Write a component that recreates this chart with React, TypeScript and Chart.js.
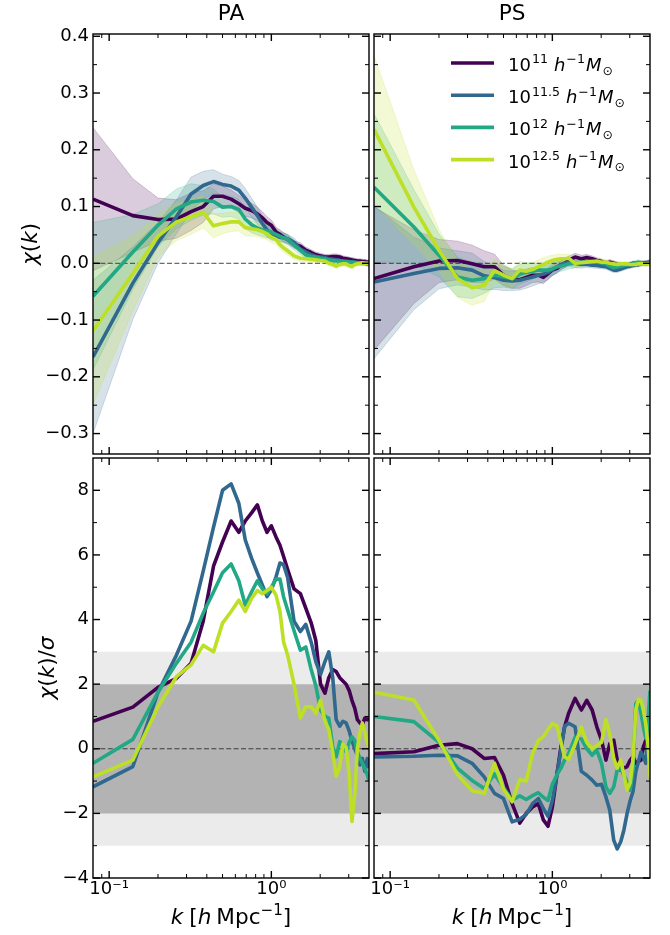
import React, { useEffect, useRef } from 'react';
import { Chart, registerables } from 'chart.js';

Chart.register(...registerables);

// ---------- data ----------
// wavenumber bins k [h Mpc^-1]
const K = [0.0795, 0.14, 0.2, 0.26, 0.32, 0.38, 0.44, 0.5, 0.565, 0.63, 0.69, 0.755, 0.82, 0.88, 0.94, 1.0, 1.07, 1.13, 1.19, 1.26, 1.38, 1.51, 1.63, 1.76, 1.88, 2.01, 2.14, 2.26, 2.39, 2.51, 2.64, 2.76, 2.89, 3.02, 3.14, 3.27, 3.39, 3.52, 3.64, 3.77, 3.9, 4.0];

const MASS_EXPONENTS = ['11', '11.5', '12', '12.5'];
const COLORS = ['#440154', '#31688e', '#22a884', '#bddf26'];

// chi(k), PA
const PA_CHI_11 = [0.113, 0.084, 0.077, 0.078, 0.091, 0.100, 0.118, 0.118, 0.113, 0.105, 0.097, 0.093, 0.087, 0.080, 0.072, 0.067, 0.055, 0.051, 0.046, 0.042, 0.033, 0.030, 0.023, 0.019, 0.015, 0.013, 0.011, 0.011, 0.012, 0.012, 0.011, 0.009, 0.008, 0.007, 0.006, 0.005, 0.004, 0.004, 0.003, 0.003, 0.002, 0.002];
const PA_CHI_115 = [-0.165, -0.035, 0.036, 0.082, 0.122, 0.137, 0.144, 0.139, 0.136, 0.129, 0.115, 0.099, 0.084, 0.070, 0.059, 0.052, 0.048, 0.046, 0.045, 0.043, 0.037, 0.025, 0.020, 0.015, 0.012, 0.011, 0.010, 0.008, 0.007, 0.006, 0.005, 0.004, 0.0035, 0.003, 0.002, 0.002, 0.001, 0.001, 0.001, 0.0, 0.0, 0.0];
const PA_CHI_12 = [-0.058, 0.020, 0.067, 0.096, 0.108, 0.111, 0.109, 0.099, 0.100, 0.095, 0.078, 0.068, 0.062, 0.059, 0.057, 0.055, 0.051, 0.048, 0.045, 0.042, 0.032, 0.023, 0.015, 0.012, 0.011, 0.009, 0.008, 0.006, 0.005, 0.004, 0.004, 0.0035, 0.003, 0.002, 0.002, 0.0015, 0.0015, 0.001, 0.0, 0.0, -0.001, -0.002];
const PA_CHI_125 = [-0.119, -0.018, 0.048, 0.073, 0.082, 0.090, 0.066, 0.070, 0.073, 0.073, 0.063, 0.061, 0.059, 0.056, 0.052, 0.046, 0.042, 0.033, 0.027, 0.022, 0.013, 0.009, 0.008, 0.007, 0.006, 0.005, 0.004, 0.0, -0.002, -0.005, -0.002, -0.001, -0.001, -0.004, -0.006, -0.002, -0.001, 0.0, 0.001, 0.0, 0.0, 0.0];

// chi(k), PS
const PS_CHI_11 = [-0.027, -0.006, 0.004, 0.005, -0.001, -0.006, -0.006, -0.021, -0.028, -0.029, -0.025, -0.021, -0.021, -0.025, -0.018, -0.012, -0.009, -0.0035, 0.0, 0.005, 0.011, 0.008, 0.010, 0.008, 0.005, 0.003, 0.0, 0.002, 0.0, -0.002, -0.0035, -0.005, -0.0035, -0.002, 0.0, -0.001, -0.002, 0.0, 0.0, 0.001, 0.001, 0.0];
const PS_CHI_115 = [-0.033, -0.018, -0.009, -0.008, -0.012, -0.022, -0.025, -0.030, -0.031, -0.030, -0.027, -0.024, -0.021, -0.019, -0.016, -0.011, -0.006, -0.003, 0.0, 0.002, 0.0, -0.002, -0.002, -0.0035, -0.004, -0.005, -0.006, -0.009, -0.012, -0.012, -0.010, -0.008, -0.006, -0.005, -0.004, -0.003, -0.002, -0.001, 0.0, 0.0, 0.002, 0.003];
const PS_CHI_12 = [0.134, 0.064, 0.014, -0.024, -0.030, -0.027, -0.021, -0.024, -0.027, -0.019, -0.016, -0.014, -0.012, -0.012, -0.012, -0.010, -0.006, -0.005, -0.003, -0.001, 0.0, 0.002, 0.0035, 0.003, 0.002, 0.001, -0.001, -0.005, -0.008, -0.006, -0.005, -0.004, -0.003, -0.002, -0.001, 0.001, 0.002, 0.001, 0.0, -0.001, 0.0, 0.0];
const PS_CHI_125 = [0.236, 0.099, 0.023, -0.027, -0.043, -0.039, -0.013, -0.021, -0.027, -0.012, -0.014, -0.011, -0.006, -0.002, 0.002, 0.005, 0.007, 0.008, 0.008, 0.009, 0.0, 0.001, 0.002, 0.003, 0.004, 0.002, 0.002, 0.0, -0.001, -0.002, -0.001, -0.001, -0.001, -0.002, -0.002, -0.002, -0.001, -0.001, -0.001, -0.001, -0.001, -0.001];

// 1-sigma widths of the shaded bands (per mass bin)
const SIGMA_11 = [0.126, 0.065, 0.038, 0.034, 0.033, 0.028, 0.022, 0.018, 0.016, 0.015, 0.014, 0.013, 0.012, 0.011, 0.010, 0.0095, 0.0085, 0.008, 0.0078, 0.0076, 0.0066, 0.0063, 0.0055, 0.005, 0.0048, 0.0047, 0.0045, 0.0045, 0.0045, 0.0045, 0.0044, 0.0043, 0.0042, 0.0041, 0.004, 0.004, 0.004, 0.004, 0.004, 0.004, 0.004, 0.004];
const SIGMA_115 = [0.135, 0.064, 0.036, 0.030, 0.030, 0.025, 0.021, 0.018, 0.017, 0.017, 0.017, 0.016, 0.015, 0.014, 0.013, 0.011, 0.009, 0.008, 0.008, 0.0078, 0.0075, 0.0068, 0.0055, 0.005, 0.0047, 0.0046, 0.0045, 0.0045, 0.0044, 0.0043, 0.0042, 0.0042, 0.0041, 0.004, 0.004, 0.004, 0.004, 0.004, 0.004, 0.004, 0.004, 0.004];
const SIGMA_12 = [0.13, 0.066, 0.038, 0.035, 0.032, 0.026, 0.022, 0.018, 0.0175, 0.0175, 0.017, 0.014, 0.012, 0.012, 0.012, 0.011, 0.0097, 0.0092, 0.0092, 0.0092, 0.0085, 0.0072, 0.006, 0.0055, 0.0052, 0.005, 0.005, 0.0048, 0.0047, 0.0046, 0.0045, 0.0044, 0.0043, 0.0042, 0.0041, 0.004, 0.004, 0.004, 0.004, 0.004, 0.004, 0.004];
const SIGMA_125 = [0.13, 0.066, 0.037, 0.033, 0.031, 0.028, 0.021, 0.018, 0.017, 0.016, 0.015, 0.013, 0.012, 0.0117, 0.0106, 0.0093, 0.0088, 0.008, 0.008, 0.0074, 0.0066, 0.006, 0.0055, 0.0052, 0.005, 0.0048, 0.0047, 0.0046, 0.0045, 0.0044, 0.0043, 0.0042, 0.0042, 0.0041, 0.004, 0.004, 0.004, 0.004, 0.004, 0.004, 0.004, 0.004];

// chi(k)/sigma, PA
const PA_SNR_11 = [0.85, 1.29, 1.90, 2.18, 2.65, 3.95, 5.65, 6.40, 7.05, 6.70, 7.05, 7.30, 7.55, 7.05, 6.70, 6.90, 6.55, 6.30, 5.95, 5.55, 4.95, 4.80, 4.35, 3.90, 3.35, 2.00, 1.72, 2.20, 2.45, 2.39, 2.20, 2.10, 2.00, 1.80, 1.50, 1.25, 0.90, 0.80, 0.75, 0.95, 0.90, 0.95];
const PA_SNR_115 = [-1.18, -0.55, 1.75, 2.90, 3.95, 5.50, 6.86, 8.00, 8.20, 7.60, 6.47, 5.90, 5.44, 5.07, 4.71, 4.92, 5.33, 5.75, 5.70, 5.30, 3.95, 3.63, 3.85, 3.30, 2.70, 2.30, 2.70, 3.00, 2.20, 0.90, 0.70, 0.85, 0.80, 0.55, 0.25, 0.00, -0.20, -0.50, -0.30, -0.70, -0.30, -0.60];
const PA_SNR_12 = [-0.45, 0.29, 1.75, 2.65, 3.30, 4.20, 4.85, 5.45, 5.72, 5.20, 4.45, 4.85, 5.20, 4.95, 4.80, 5.00, 5.25, 5.25, 4.70, 4.30, 3.65, 3.05, 3.15, 2.45, 1.95, 1.20, 1.00, 0.95, 0.06, -0.25, 0.22, 0.10, -0.10, 0.20, 0.37, 0.25, -0.10, -0.30, -0.45, -0.60, -0.80, -1.00];
const PA_SNR_125 = [-0.87, -0.35, 1.30, 2.23, 2.60, 3.20, 3.00, 3.89, 4.25, 4.60, 4.25, 4.65, 4.90, 4.80, 4.90, 5.00, 4.75, 4.25, 3.30, 2.90, 2.00, 0.95, 1.30, 1.30, 1.10, 1.50, 0.85, 0.60, -0.10, -0.85, -0.55, 0.15, 0.05, -0.80, -2.25, -1.40, 0.00, 0.50, 0.80, 0.50, 0.20, 0.05];

// chi(k)/sigma, PS
const PS_SNR_11 = [-0.15, -0.09, 0.11, 0.16, 0.0, -0.30, -0.27, -0.82, -1.70, -2.30, -2.00, -1.80, -1.70, -2.20, -2.40, -1.80, -0.76, 0.06, 0.68, 1.10, 1.56, 1.20, 1.50, 1.20, 0.68, 0.27, -0.35, 0.16, 0.27, -0.35, -0.66, -0.60, -0.55, -0.35, -0.25, -0.45, -0.40, -0.35, 0.06, 0.27, 0.37, 0.68];
const PS_SNR_115 = [-0.25, -0.23, -0.20, -0.22, -0.45, -0.87, -1.38, -1.54, -2.26, -2.18, -2.03, -1.70, -1.54, -1.85, -2.09, -1.60, -0.76, -0.05, 0.70, 0.79, 0.68, -0.70, -0.82, -0.97, -1.13, -1.10, -1.49, -1.90, -2.83, -3.10, -2.88, -2.52, -2.00, -1.60, -1.33, -0.71, -0.40, -0.10, -0.25, -0.45, 0.58, 1.20];
const PS_SNR_12 = [1.00, 0.84, 0.20, -0.60, -0.98, -1.23, -0.78, -1.20, -1.59, -1.46, -1.57, -1.45, -1.36, -1.50, -1.60, -1.10, -0.80, -0.60, -0.35, -0.15, 0.35, 0.30, 0.00, -0.20, -0.04, -0.45, -1.18, -1.38, -1.18, -0.66, -0.60, -0.82, -1.02, -1.28, -0.66, 1.40, 1.50, 1.10, 0.68, 0.32, 0.90, 1.80];
const PS_SNR_125 = [1.75, 1.51, 0.26, -0.80, -1.30, -1.38, -0.45, -1.25, -1.64, -0.95, -1.00, -0.14, 0.25, 0.38, 0.60, 0.78, 0.70, 0.20, -0.25, -0.33, 0.14, 0.67, 0.20, 0.00, 0.10, 0.20, 0.90, 0.45, -0.30, -0.60, -0.35, -0.80, -1.28, -1.05, -0.35, 1.20, 1.53, 1.50, 1.20, 0.75, 0.06, -0.87];

const SIGMAS = [SIGMA_11, SIGMA_115, SIGMA_12, SIGMA_125];

// axes
const X_MIN = 0.0795;
const X_MAX = 4.0;
const X_MAJOR = [0.1, 1];
const X_TICK_TEXT = ['10\u207B\u00B9', '10\u2070'];
const X_MINOR = [0.09, 0.2, 0.3, 0.4, 0.5, 0.6, 0.7, 0.8, 0.9, 2, 3];
const CHI_RANGE = [-0.336, 0.404];
const CHI_TICKS = [-0.3, -0.2, -0.1, 0.0, 0.1, 0.2, 0.3, 0.4];
const CHI_MINOR = [-0.25, -0.15, -0.05, 0.05, 0.15, 0.25, 0.35];
const SNR_RANGE = [-4, 9];
const SNR_TICKS = [-4, -2, 0, 2, 4, 6, 8];
const SNR_MINOR = [-3, -1, 1, 3, 5, 7];
const SNR_BANDS = [3, 2];
const SNR_BAND_COLORS = ['#ebebeb', '#b3b3b3'];

// ---------- styling ----------
const FONT_FAMILY = '"DejaVu Sans", sans-serif';
const TICK_SIZE = 18;
const LABEL_SIZE = 21.6;
const LINE_W = 3.6;

type Seg = { t?: string; it?: boolean; sup?: boolean; sub?: boolean; sp?: number };

const CHI_LABEL: Seg[] = [{ t: '\u03C7', it: true }, { t: '(' }, { t: 'k', it: true }, { t: ')' }];
const SNR_LABEL: Seg[] = [{ t: '\u03C7', it: true }, { t: '(' }, { t: 'k', it: true }, { t: ')/' }, { t: '\u03C3', it: true }];
const X_LABEL: Seg[] = [{ t: 'k', it: true }, { sp: 6 }, { t: '[' }, { t: 'h', it: true }, { sp: 5 }, { t: 'Mpc' }, { t: '\u22121', sup: true }, { t: ']' }];
const legendSegs = (exp: string): Seg[] => [
  { t: '10' }, { sp: 1 }, { t: exp, sup: true }, { sp: 6 }, { t: 'h', it: true }, { sp: 1 }, { t: '\u22121', sup: true }, { sp: 1 }, { t: 'M', it: true }, { sp: 1 }, { t: '\u2299', sub: true },
];

function segFont(s: Seg, size: number) {
  const fs = s.sup || s.sub ? size * 0.7 : size;
  return `${s.it ? 'italic ' : ''}${fs}px ${FONT_FAMILY}`;
}
function richWidth(ctx: CanvasRenderingContext2D, segs: Seg[], size: number) {
  let w = 0;
  for (const s of segs) {
    if (s.sp) { w += s.sp; continue; }
    ctx.font = segFont(s, size);
    w += ctx.measureText(s.t || '').width;
  }
  return w;
}
function drawRich(ctx: CanvasRenderingContext2D, segs: Seg[], x: number, y: number, size: number, align: 'left' | 'center') {
  const w = richWidth(ctx, segs, size);
  let cx = align === 'center' ? x - w / 2 : x;
  ctx.textAlign = 'left';
  ctx.textBaseline = 'alphabetic';
  for (const s of segs) {
    if (s.sp) { cx += s.sp; continue; }
    ctx.font = segFont(s, size);
    const dy = s.sup ? -size * 0.42 : s.sub ? size * 0.2 : 0;
    ctx.fillText(s.t || '', cx, y + dy);
    cx += ctx.measureText(s.t || '').width;
  }
}

function rgba(hex: string, a: number) {
  const n = parseInt(hex.slice(1), 16);
  return `rgba(${(n >> 16) & 255},${(n >> 8) & 255},${n & 255},${a})`;
}

type PanelCfg = {
  key: string;
  area: { l: number; t: number; r: number; b: number };
  kind: 'chi' | 'snr';
  series: number[][];
  title?: string;
  legend?: boolean;
  yLabel?: Seg[];
  yLabelX?: number;
  showY: boolean;
  showX: boolean;
};

const PANELS: PanelCfg[] = [
  { key: 'pa-chi', area: { l: 93, t: 34, r: 369, b: 454 }, kind: 'chi', series: [PA_CHI_11, PA_CHI_115, PA_CHI_12, PA_CHI_125], title: 'PA', yLabel: CHI_LABEL, yLabelX: 36.5, showY: true, showX: false },
  { key: 'ps-chi', area: { l: 374, t: 34, r: 650, b: 454 }, kind: 'chi', series: [PS_CHI_11, PS_CHI_115, PS_CHI_12, PS_CHI_125], title: 'PS', legend: true, showY: false, showX: false },
  { key: 'pa-snr', area: { l: 93, t: 458, r: 369, b: 878 }, kind: 'snr', series: [PA_SNR_11, PA_SNR_115, PA_SNR_12, PA_SNR_125], yLabel: SNR_LABEL, yLabelX: 54, showY: true, showX: true },
  { key: 'ps-snr', area: { l: 374, t: 458, r: 650, b: 878 }, kind: 'snr', series: [PS_SNR_11, PS_SNR_115, PS_SNR_12, PS_SNR_125], showY: false, showX: true },
];

const X_AXIS_H = 40;
const Y_AXIS_W = 93;

function buildDatasets(cfg: PanelCfg) {
  const ds: any[] = [];
  const base = { pointRadius: 0, tension: 0, clip: 0 };
  if (cfg.kind === 'chi') {
    cfg.series.forEach((chi, i) => {
      const sig = SIGMAS[i];
      ds.push({ ...base, data: K.map((k, j) => ({ x: k, y: chi[j] + sig[j] })), fill: '+1', backgroundColor: rgba(COLORS[i], 0.2), borderColor: rgba(COLORS[i], 0.2), borderWidth: 1, order: 30 - i });
      ds.push({ ...base, data: K.map((k, j) => ({ x: k, y: chi[j] - sig[j] })), fill: false, borderColor: rgba(COLORS[i], 0.2), borderWidth: 1, order: 30 - i });
    });
  } else {
    SNR_BANDS.forEach((lv, i) => {
      ds.push({ ...base, data: [{ x: X_MIN, y: lv }, { x: X_MAX, y: lv }], fill: { value: -lv }, backgroundColor: SNR_BAND_COLORS[i], borderWidth: 0, order: 40 - i });
    });
  }
  ds.push({ ...base, data: [{ x: X_MIN, y: 0 }, { x: X_MAX, y: 0 }], borderColor: 'rgba(40,40,40,0.85)', borderWidth: 1, borderDash: [5, 2.4], fill: false, order: 10 });
  cfg.series.forEach((vals, i) => {
    ds.push({ ...base, data: K.map((k, j) => ({ x: k, y: vals[j] })), borderColor: COLORS[i], borderWidth: LINE_W, borderJoinStyle: 'round', borderCapStyle: 'butt', fill: false, order: 5 - i });
  });
  return ds;
}

function makeDecor(cfg: PanelCfg) {
  return {
    id: 'decor-' + cfg.key,
    afterDraw(chart: any) {
      const ctx: CanvasRenderingContext2D = chart.ctx;
      const a = chart.chartArea;
      const xs = chart.scales.x;
      const ys = chart.scales.y;
      ctx.save();
      ctx.strokeStyle = '#000';
      ctx.lineCap = 'butt';
      const line = (x1: number, y1: number, x2: number, y2: number, w: number) => {
        ctx.lineWidth = w;
        ctx.beginPath();
        ctx.moveTo(x1, y1);
        ctx.lineTo(x2, y2);
        ctx.stroke();
      };
      const MAJ = 7, MIN = 4;
      X_MAJOR.forEach((v) => { const p = xs.getPixelForValue(v); line(p, a.bottom, p, a.bottom - MAJ, 1.4); line(p, a.top, p, a.top + MAJ, 1.4); });
      X_MINOR.forEach((v) => { const p = xs.getPixelForValue(v); line(p, a.bottom, p, a.bottom - MIN, 1.0); line(p, a.top, p, a.top + MIN, 1.0); });
      const yMaj = cfg.kind === 'chi' ? CHI_TICKS : SNR_TICKS;
      const yMin = cfg.kind === 'chi' ? CHI_MINOR : SNR_MINOR;
      yMaj.forEach((v) => { const p = ys.getPixelForValue(v); line(a.left, p, a.left + MAJ, p, 1.4); line(a.right, p, a.right - MAJ, p, 1.4); });
      yMin.forEach((v) => { const p = ys.getPixelForValue(v); line(a.left, p, a.left + MIN, p, 1.0); line(a.right, p, a.right - MIN, p, 1.0); });
      ctx.lineWidth = 1.4;
      ctx.strokeRect(a.left, a.top, a.right - a.left, a.bottom - a.top);

      ctx.fillStyle = '#000';
      if (cfg.title) {
        ctx.font = `${LABEL_SIZE}px ${FONT_FAMILY}`;
        ctx.textAlign = 'center';
        ctx.textBaseline = 'alphabetic';
        ctx.fillText(cfg.title, (a.left + a.right) / 2, 20);
      }
      if (cfg.yLabel) {
        ctx.save();
        ctx.translate(cfg.yLabelX || 30, (a.top + a.bottom) / 2);
        ctx.rotate(-Math.PI / 2);
        drawRich(ctx, cfg.yLabel, 0, 0, LABEL_SIZE, 'center');
        ctx.restore();
      }
      if (cfg.showX) {
        drawRich(ctx, X_LABEL, (a.left + a.right) / 2, 924, LABEL_SIZE, 'center');
      }
      if (cfg.legend) {
        MASS_EXPONENTS.forEach((exp, i) => {
          const y = 63 + i * 32.2;
          ctx.strokeStyle = COLORS[i];
          line(451, y, 494, y, LINE_W);
          ctx.fillStyle = '#000';
          drawRich(ctx, legendSegs(exp), 508, y + 8, TICK_SIZE, 'left');
        });
      }
      ctx.restore();
    },
  };
}

function Panel({ cfg }: { cfg: PanelCfg }) {
  const ref = useRef<HTMLCanvasElement>(null);
  useEffect(() => {
    const yr = cfg.kind === 'chi' ? CHI_RANGE : SNR_RANGE;
    const yTicks = cfg.kind === 'chi' ? CHI_TICKS : SNR_TICKS;
    const chart = new Chart(ref.current as HTMLCanvasElement, {
      type: 'line',
      data: { datasets: buildDatasets(cfg) },
      options: {
        animation: false,
        responsive: false,
        devicePixelRatio: 1,
        events: [],
        layout: {
          padding: {
            left: cfg.showY ? cfg.area.l - Y_AXIS_W : cfg.area.l,
            right: 670 - cfg.area.r,
            top: cfg.area.t,
            bottom: cfg.showX ? 935 - cfg.area.b - X_AXIS_H : 935 - cfg.area.b,
          },
        },
        plugins: { legend: { display: false }, tooltip: { enabled: false } },
        scales: {
          x: {
            type: 'logarithmic',
            min: X_MIN,
            max: X_MAX,
            display: cfg.showX,
            grid: { display: false, drawTicks: false },
            border: { display: false },
            ticks: {
              color: '#000',
              font: { family: FONT_FAMILY, size: TICK_SIZE },
              padding: 1,
              maxRotation: 0,
              minRotation: 0,
              autoSkip: false,
              callback: (_v: any, i: number) => X_TICK_TEXT[i] ?? '',
            },
            afterBuildTicks: (s: any) => { s.ticks = X_MAJOR.map((value) => ({ value })); },
            afterFit: (s: any) => { if (cfg.showX) s.height = X_AXIS_H; },
          },
          y: {
            type: 'linear',
            min: yr[0],
            max: yr[1],
            display: cfg.showY,
            grid: { display: false, drawTicks: false },
            border: { display: false },
            ticks: {
              color: '#000',
              font: { family: FONT_FAMILY, size: TICK_SIZE },
              padding: 4,
              autoSkip: false,
              callback: (v: any) => {
                const n = Number(v);
                const s = cfg.kind === 'chi' ? n.toFixed(1) : String(Math.round(n));
                return s.replace('-', '\u2212');
              },
            },
            afterBuildTicks: (s: any) => { s.ticks = yTicks.map((value) => ({ value })); },
            afterFit: (s: any) => { if (cfg.showY) s.width = Y_AXIS_W; },
          },
        },
      } as any,
      plugins: [makeDecor(cfg)],
    });
    return () => chart.destroy();
  }, []);
  return (
    <canvas
      ref={ref}
      width={670}
      height={935}
      style={{ position: 'absolute', left: 0, top: 0, width: 670, height: 935 }}
    />
  );
}

export default function App() {
  return (
    <div style={{ position: 'fixed', left: 0, top: 0, width: 670, height: 935, background: '#fff', overflow: 'hidden' }}>
      {PANELS.map((p) => (
        <Panel key={p.key} cfg={p} />
      ))}
    </div>
  );
}
